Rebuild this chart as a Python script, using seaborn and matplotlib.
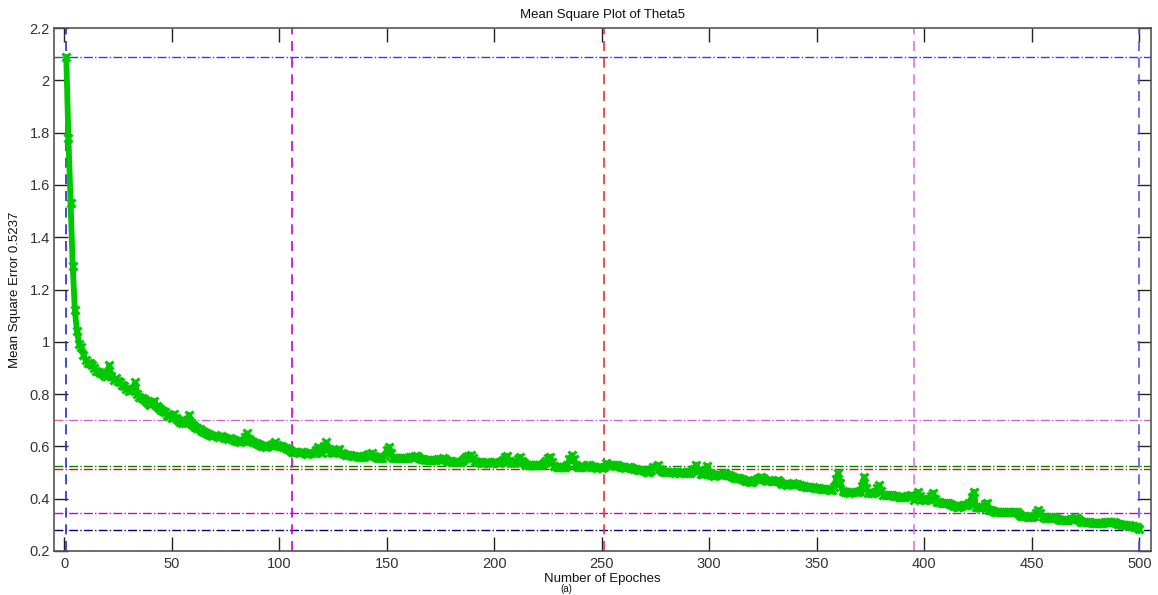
import numpy as np
import pandas as pd
import matplotlib
matplotlib.use("Agg")
import matplotlib.pyplot as plt
import seaborn as sns

# ---- data ----
mse = [
    2.09, 1.78, 1.53, 1.29, 1.12, 1.04, 0.99, 0.98, 0.95, 0.93,
    0.92, 0.92, 0.91, 0.90, 0.89, 0.885, 0.88, 0.875, 0.87, 0.87,
    0.91, 0.87, 0.855, 0.86, 0.85, 0.845, 0.835, 0.83, 0.82, 0.81,
    0.815, 0.82, 0.845, 0.80, 0.79, 0.785, 0.78, 0.775, 0.765, 0.76,
    0.765, 0.775, 0.755, 0.745, 0.74, 0.735, 0.73, 0.72, 0.715, 0.71,
    0.725, 0.71, 0.70, 0.695, 0.69, 0.69, 0.70, 0.72, 0.69, 0.68,
    0.675, 0.67, 0.665, 0.66, 0.655, 0.65, 0.648, 0.645, 0.64, 0.642,
    0.638, 0.635, 0.64, 0.636, 0.632, 0.63, 0.634, 0.63, 0.625, 0.62,
    0.62, 0.618, 0.622, 0.635, 0.65, 0.63, 0.62, 0.615, 0.612, 0.61,
    0.605, 0.60, 0.60, 0.598, 0.602, 0.605, 0.61, 0.615, 0.605, 0.60,
    0.60, 0.598, 0.595, 0.59, 0.585, 0.58, 0.578, 0.58, 0.576, 0.578,
    0.578, 0.575, 0.572, 0.574, 0.575, 0.575, 0.585, 0.598, 0.578, 0.575,
    0.60, 0.615, 0.59, 0.578, 0.575, 0.578, 0.585, 0.59, 0.575, 0.57,
    0.568, 0.567, 0.567, 0.565, 0.563, 0.562, 0.56, 0.56, 0.56, 0.562,
    0.568, 0.572, 0.575, 0.565, 0.558, 0.556, 0.555, 0.555, 0.565, 0.585,
    0.598, 0.575, 0.556, 0.555, 0.555, 0.556, 0.554, 0.555, 0.555, 0.556,
    0.558, 0.56, 0.562, 0.563, 0.556, 0.55, 0.55, 0.548, 0.548, 0.548,
    0.548, 0.547, 0.548, 0.55, 0.553, 0.555, 0.55, 0.546, 0.544, 0.546,
    0.542, 0.54, 0.54, 0.54, 0.545, 0.55, 0.558, 0.565, 0.567, 0.555,
    0.545, 0.54, 0.54, 0.538, 0.538, 0.54, 0.54, 0.538, 0.538, 0.54,
    0.54, 0.538, 0.542, 0.548, 0.558, 0.563, 0.545, 0.538, 0.536, 0.54,
    0.55, 0.56, 0.545, 0.535, 0.53, 0.529, 0.53, 0.528, 0.529, 0.53,
    0.529, 0.53, 0.535, 0.545, 0.555, 0.56, 0.54, 0.525, 0.522, 0.521,
    0.521, 0.52, 0.522, 0.53, 0.55, 0.567, 0.55, 0.53, 0.522, 0.521,
    0.52, 0.522, 0.528, 0.529, 0.524, 0.52, 0.521, 0.518, 0.52, 0.518,
    0.522, 0.536, 0.53, 0.525, 0.528, 0.53, 0.529, 0.525, 0.52, 0.52,
    0.518, 0.52, 0.521, 0.518, 0.515, 0.512, 0.51, 0.51, 0.508, 0.506,
    0.504, 0.502, 0.51, 0.52, 0.522, 0.53, 0.515, 0.505, 0.503, 0.502,
    0.502, 0.502, 0.503, 0.50, 0.502, 0.50, 0.502, 0.502, 0.50, 0.498,
    0.50, 0.505, 0.515, 0.53, 0.51, 0.495, 0.495, 0.505, 0.525, 0.50,
    0.49, 0.487, 0.49, 0.495, 0.49, 0.492, 0.498, 0.495, 0.49, 0.485,
    0.482, 0.48, 0.479, 0.478, 0.475, 0.47, 0.468, 0.466, 0.464, 0.465,
    0.47, 0.475, 0.48, 0.483, 0.478, 0.472, 0.468, 0.47, 0.468, 0.466,
    0.468, 0.47, 0.462, 0.458, 0.455, 0.452, 0.455, 0.458, 0.46, 0.458,
    0.455, 0.452, 0.45, 0.448, 0.446, 0.445, 0.445, 0.443, 0.442, 0.44,
    0.44, 0.438, 0.437, 0.437, 0.436, 0.434, 0.433, 0.445, 0.475, 0.498,
    0.46, 0.428, 0.426, 0.424, 0.422, 0.424, 0.425, 0.426, 0.426, 0.428,
    0.45, 0.483, 0.44, 0.422, 0.42, 0.42, 0.425, 0.44, 0.452, 0.43,
    0.414, 0.414, 0.415, 0.413, 0.414, 0.412, 0.41, 0.408, 0.406, 0.406,
    0.408, 0.41, 0.412, 0.414, 0.396, 0.41, 0.426, 0.41, 0.398, 0.395,
    0.396, 0.40, 0.41, 0.422, 0.40, 0.387, 0.386, 0.385, 0.384, 0.384,
    0.382, 0.378, 0.375, 0.372, 0.368, 0.37, 0.372, 0.375, 0.376, 0.376,
    0.385, 0.405, 0.426, 0.37, 0.368, 0.366, 0.37, 0.378, 0.384, 0.357,
    0.355, 0.352, 0.35, 0.349, 0.349, 0.35, 0.349, 0.348, 0.35, 0.351,
    0.35, 0.349, 0.348, 0.34, 0.334, 0.333, 0.332, 0.331, 0.33, 0.33,
    0.335, 0.345, 0.357, 0.345, 0.33, 0.326, 0.327, 0.328, 0.329, 0.33,
    0.325, 0.322, 0.32, 0.318, 0.318, 0.319, 0.32, 0.322, 0.324, 0.326,
    0.326, 0.318, 0.312, 0.311, 0.31, 0.31, 0.309, 0.308, 0.308, 0.307,
    0.306, 0.306, 0.308, 0.31, 0.311, 0.312, 0.311, 0.309, 0.306, 0.304,
    0.302, 0.30, 0.30, 0.30, 0.298, 0.296, 0.294, 0.292, 0.29, 0.285,
]
epochs = list(range(1, len(mse) + 1))

# reference lines
hline_values = [2.09, 0.70, 0.5237, 0.512, 0.345, 0.28]
hline_colors = ["#3a3af0", "#cc66cc", "#008000", "#ff0000", "#cc00cc", "#000080"]
vline_values = [1, 106, 251, 395, 500]
vline_colors = ["#2a2ac8", "#cc00cc", "#ee3333", "#dd77dd", "#5555ee"]

xticks = [0, 50, 100, 150, 200, 250, 300, 350, 400, 450, 500]
yticks = [0.2, 0.4, 0.6, 0.8, 1.0, 1.2, 1.4, 1.6, 1.8, 2.0, 2.2]
ytick_labels = ["0.2", "0.4", "0.6", "0.8", "1", "1.2", "1.4", "1.6", "1.8", "2", "2.2"]

title = "Mean Square Plot of Theta5"
xlabel = "Number of Epoches"
ylabel = "Mean Square Error 0.5237"
caption = "(a)"

# ---- plotting ----
sns.set_style("white")
plt.rcParams["font.family"] = ["Liberation Sans", "DejaVu Sans"]

fig = plt.figure(figsize=(11.58, 5.95), dpi=100)
ax = fig.add_axes([54 / 1158, 1 - 551 / 595, (1151 - 54) / 1158, (551 - 28) / 595])

df = pd.DataFrame({"epoch": epochs, "mse": mse})

for v, c in zip(hline_values, hline_colors):
    ax.axhline(v, color=c, linestyle="-.", linewidth=1.0, zorder=1)
for v, c in zip(vline_values, vline_colors):
    ax.axvline(v, color=c, linestyle=(0, (6, 4)), linewidth=1.2, zorder=1)

sns.lineplot(data=df, x="epoch", y="mse", ax=ax, color="#00c800", linewidth=4.2,
             marker="x", markersize=6, markeredgewidth=2.2, markeredgecolor="#00c800",
             zorder=3, legend=False)

ax.set_xlim(-4.7, 505.4)
ax.set_ylim(0.2, 2.2)
ax.set_xticks(xticks)
ax.set_yticks(yticks)
ax.set_yticklabels(ytick_labels)

ax.tick_params(axis="both", direction="in", length=10, width=1, color="#222222",
               labelsize=10.5, labelcolor="#333333", top=True, right=True,
               bottom=True, left=True)
ax.tick_params(axis="x", pad=4)
ax.tick_params(axis="y", pad=3)

for s in ax.spines.values():
    s.set_visible(True)
    s.set_color("#555555")
    s.set_linewidth(1.2)

ax.set_title(title, fontsize=9.5, color="#111111", pad=7)
ax.set_xlabel(xlabel, fontsize=9.5, color="#111111", labelpad=2)
ax.set_ylabel(ylabel, fontsize=9.5, color="#111111", labelpad=6)
ax.grid(False)

fig.text(0.489, 0.002, caption, fontsize=7, color="#111111", ha="center", va="bottom")

fig.savefig("out.png", dpi=100, facecolor="white")
